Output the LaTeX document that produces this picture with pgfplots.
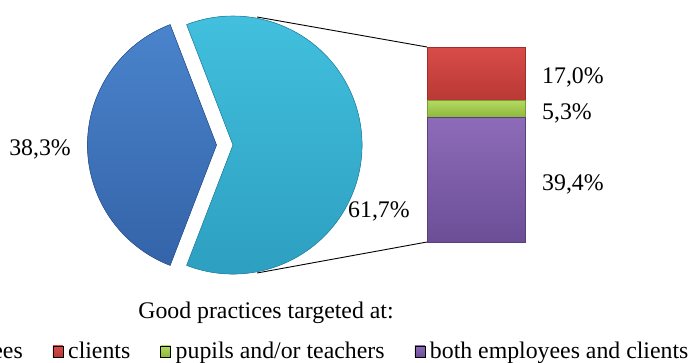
\documentclass[border=0pt]{standalone}
\usepackage{pgfplots}
\pgfplotsset{compat=1.18}
\usepackage{fontspec}
\setmainfont{Liberation Serif}
\definecolor{dkA}{HTML}{4A84CC}
\definecolor{dkB}{HTML}{3463A8}
\definecolor{dkE}{HTML}{2D5A9A}
\definecolor{ltA}{HTML}{42C0DE}
\definecolor{ltB}{HTML}{2C9DBF}
\definecolor{ltE}{HTML}{2A8DAD}
\definecolor{rdA}{HTML}{D84C48}
\definecolor{rdB}{HTML}{B93835}
\definecolor{rdE}{HTML}{9E2E2C}
\definecolor{grA}{HTML}{B4D862}
\definecolor{grB}{HTML}{8DB83A}
\definecolor{grE}{HTML}{789E30}
\definecolor{puA}{HTML}{8D6BB8}
\definecolor{puB}{HTML}{6C4E97}
\definecolor{puE}{HTML}{5A3F80}
\newcommand{\bigfont}{\fontsize{23.8}{28}\selectfont}
\begin{document}
\begin{tikzpicture}
\path[use as bounding box, clip] (0pt,0pt) rectangle (692pt,362pt);
% pie values (percent)
\pgfmathsetmacro{\pEmp}{38.3}
\pgfmathsetmacro{\pOth}{61.7}
\pgfmathsetmacro{\halfEmp}{\pEmp*3.6/2}
\pgfmathsetmacro{\aOne}{180-\halfEmp}
\pgfmathsetmacro{\aTwo}{180+\halfEmp}
\begin{axis}[
  at={(0pt,0pt)}, anchor=south west,
  x=1pt, y=1pt, xmin=0, xmax=692, ymin=0, ymax=362,
  hide axis, clip=false,
  legend columns=4,
  legend image code/.code={\fill[#1] (0pt,-5.5pt) rectangle (10pt,5.5pt);},
  legend style={draw=none, fill=none, at={(axis cs:298,-0.5)}, anchor=south,
    inner sep=0pt, font=\bigfont,
    nodes={inner sep=2pt, text depth=0.15em},
    /tikz/every odd column/.append style={column sep=3pt},
    /tikz/every even column/.append style={column sep=28pt}},
]
% connector lines
\draw[black, line width=0.9pt] (axis cs:257,345) -- (axis cs:427,315);
\draw[black, line width=0.9pt] (axis cs:257,89) -- (axis cs:427,120);
% other slice (61.7%)
\fill[top color=ltA, bottom color=ltB, draw=ltE, line width=0.6pt]
  (axis cs:233,217) -- ++(-\aOne:129pt) arc[start angle=-\aOne, end angle=\aOne, radius=129pt] -- cycle;
% employees slice (38.3%), exploded
\fill[top color=dkA, bottom color=dkB, draw=dkE, line width=0.6pt]
  (axis cs:216.5,217) -- ++(\aOne:129pt) arc[start angle=\aOne, end angle=\aTwo, radius=129pt] -- cycle;
% labels
\node[anchor=base, inner sep=0pt, font=\bigfont] at (axis cs:40,207) {38,3\%};
\node[anchor=base west, inner sep=0pt, font=\bigfont] at (axis cs:348,145) {61,7\%};
\node[anchor=base west, inner sep=0pt, font=\bigfont] at (axis cs:542,278) {17,0\%};
\node[anchor=base west, inner sep=0pt, font=\bigfont] at (axis cs:542,243) {5,3\%};
\node[anchor=base west, inner sep=0pt, font=\bigfont] at (axis cs:542,172) {39,4\%};
\node[anchor=base, inner sep=0pt, font=\bigfont] at (axis cs:266,44) {Good practices targeted at:};
\addlegendimage{top color=dkA, bottom color=dkB}
\addlegendentry{employees}
\addlegendimage{top color=rdA, bottom color=rdB}
\addlegendentry{clients}
\addlegendimage{top color=grA, bottom color=grB}
\addlegendentry{pupils and/or teachers}
\addlegendimage{top color=puA, bottom color=puB}
\addlegendentry{both employees and clients}
\end{axis}
\begin{axis}[
  at={(427pt,120pt)}, anchor=south west,
  width=98pt, height=195pt, scale only axis,
  xmin=-0.5, xmax=0.5, ymin=0, ymax=61.7,
  hide axis, clip=false,
  ybar stacked, bar width=98pt,
]
\addplot[top color=puA, bottom color=puB, draw=puE, line width=0.6pt] coordinates {(0,39.4)};
\addplot[top color=grA, bottom color=grB, draw=grE, line width=0.6pt] coordinates {(0,5.3)};
\addplot[top color=rdA, bottom color=rdB, draw=rdE, line width=0.6pt] coordinates {(0,17.0)};
\end{axis}
\end{tikzpicture}
\end{document}
